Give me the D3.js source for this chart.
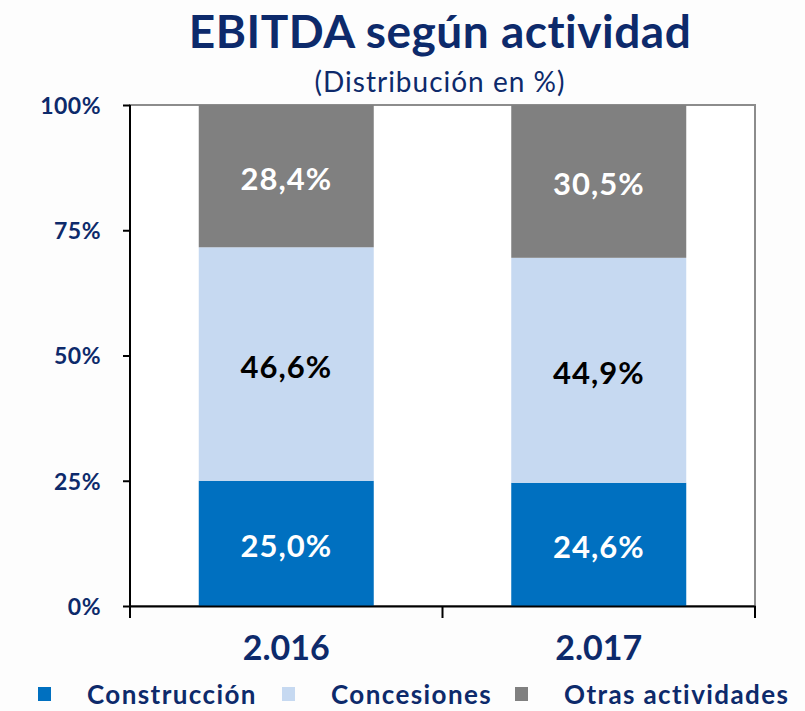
<!DOCTYPE html>
<html>
<head>
<meta charset="utf-8">
<script src="https://cdn.jsdelivr.net/npm/d3@7/dist/d3.min.js"></script>
<style>
  body { margin: 0; background: #fdfdfd; }
  svg text { font-family: Lato, "Open Sans", sans-serif; }
</style>
</head>
<body>
<div id="vizcont"></div>
<script>
// data
var years = ["2.016", "2.017"];
var series = ["Construcción", "Concesiones", "Otras actividades"];
var construccion = [25.0, 24.6];
var concesiones = [46.6, 44.9];
var otras = [28.4, 30.5];
var yTicks = [0, 25, 50, 75, 100];

var colors = ["#0070c0", "#c6d9f1", "#808080"];
var labelColors = ["#ffffff", "#000000", "#ffffff"];
var navy = "#0d2a6b";

var W = 805, H = 711;
var margin = {top: 105, right: 50, bottom: 105, left: 130};
var width = W - margin.left - margin.right;
var height = H - margin.top - margin.bottom;

var svg = d3.select("#vizcont").append("svg")
    .attr("width", W).attr("height", H);

// titles
svg.append("text")
    .attr("x", 440).attr("y", 48)
    .attr("text-anchor", "middle")
    .style("font-size", "46px").style("font-weight", "bold")
    .style("letter-spacing", "0.5px")
    .style("fill", navy)
    .text("EBITDA según actividad");
svg.append("text")
    .attr("x", 440).attr("y", 92)
    .attr("text-anchor", "middle")
    .style("font-size", "28px")
    .style("letter-spacing", "1px")
    .style("fill", navy)
    .text("(Distribución en %)");

var g = svg.append("g")
    .attr("transform", "translate(" + margin.left + "," + margin.top + ")");

var x = d3.scaleBand().domain(years).range([0, width]).paddingInner(0.44).paddingOuter(0.22);
var y = d3.scaleLinear().domain([0, 100]).range([height, 0]);

// plot area frame
g.append("rect")
    .attr("x", 0).attr("y", 0)
    .attr("width", width).attr("height", height)
    .attr("fill", "#ffffff")
    .attr("stroke", "#8c8c8c").attr("stroke-width", 2);

// stack
var rows = years.map(function(yr, i) {
    return {year: yr, "Construcción": construccion[i], "Concesiones": concesiones[i], "Otras actividades": otras[i]};
});
var stacked = d3.stack().keys(series)(rows);

stacked.forEach(function(layer, si) {
    g.selectAll(".bar" + si)
     .data(layer)
     .enter()
     .append("rect")
     .attr("x", function(d) { return x(d.data.year); })
     .attr("y", function(d) { return y(d[1]); })
     .attr("width", x.bandwidth())
     .attr("height", function(d) { return y(d[0]) - y(d[1]); })
     .attr("fill", colors[si]);

    g.selectAll(".lbl" + si)
     .data(layer)
     .enter()
     .append("text")
     .attr("x", function(d) { return x(d.data.year) + x.bandwidth() / 2; })
     .attr("y", function(d) { return (y(d[0]) + y(d[1])) / 2; })
     .attr("dy", "0.45em")
     .attr("text-anchor", "middle")
     .style("font-size", "31px").style("font-weight", "bold")
     .style("letter-spacing", "1px")
     .style("fill", labelColors[si])
     .text(function(d) { return (d[1] - d[0]).toFixed(1).replace(".", ",") + "%"; });
});

// y axis
var yAxis = g.append("g")
    .call(d3.axisLeft(y).tickValues(yTicks).tickSize(7).tickPadding(22)
        .tickFormat(function(d) { return d + "%"; }));
yAxis.select(".domain").attr("stroke", "#000").attr("stroke-width", 2).attr("d", "M0,0V" + (height + 8));
yAxis.selectAll(".tick line").attr("stroke", "#000").attr("stroke-width", 2);
yAxis.selectAll("text")
    .style("font-size", "23px").style("font-weight", "bold")
    .style("letter-spacing", "0.5px")
    .style("fill", navy)
    .attr("dy", "0.36em");

// x axis
var xAxis = g.append("g")
    .attr("transform", "translate(0," + height + ")")
    .call(d3.axisBottom(x).tickSize(0).tickPadding(30));
xAxis.select(".domain").attr("stroke", "#000").attr("stroke-width", 2);
xAxis.selectAll("text")
    .style("font-size", "34px").style("font-weight", "bold")
    .style("fill", navy);
// category separators
[0, width / 2, width].forEach(function(p) {
    xAxis.append("line")
        .attr("x1", p).attr("x2", p)
        .attr("y1", 0).attr("y2", 12)
        .attr("stroke", "#000").attr("stroke-width", 2);
});

// legend
var legendX = [38, 282, 515];
var leg = svg.append("g").attr("transform", "translate(0,695)");
series.forEach(function(s, i) {
    leg.append("rect")
        .attr("x", legendX[i]).attr("y", -8)
        .attr("width", 13).attr("height", 14)
        .attr("fill", colors[i]);
    leg.append("text")
        .attr("x", legendX[i] + 49).attr("y", 0)
        .attr("dy", "0.36em")
        .style("font-size", "26px").style("font-weight", "bold")
        .style("letter-spacing", "1.4px")
        .style("fill", navy)
        .text(s);
});
</script>
</body>
</html>
